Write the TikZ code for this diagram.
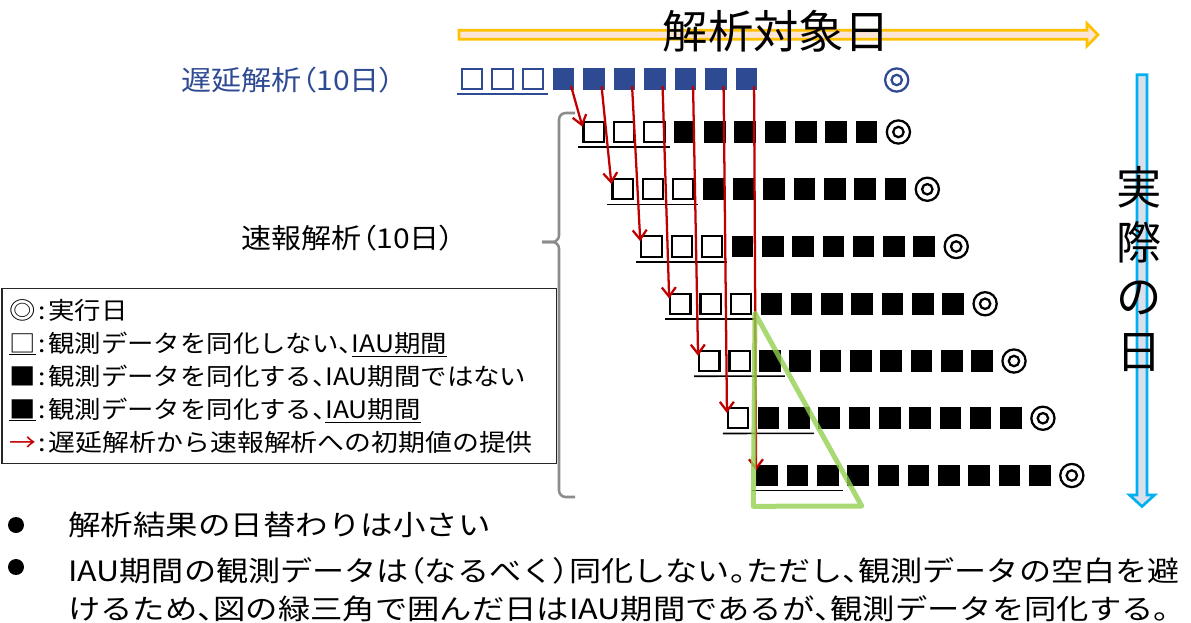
\documentclass[tikz,border=0pt]{standalone}
\usepackage{fontspec}
\usepackage{graphicx}
\setmainfont{Noto Sans CJK JP}
\newfontfamily\jpp[RawFeature=+palt]{Noto Sans CJK JP}
\newcommand\pp[1]{{\jpp #1}}
\usetikzlibrary{arrows.meta,calc}
\definecolor{dblue}{HTML}{2E4A93}
\definecolor{arrred}{HTML}{C00000}
\definecolor{yline}{HTML}{FFC000}
\definecolor{peach}{HTML}{FBE5D6}
\definecolor{cline}{HTML}{00B0F0}
\definecolor{cfill}{HTML}{DAE0EA}
\definecolor{tgreen}{HTML}{92D050}
\definecolor{bgray}{HTML}{8C8C8C}
\begin{document}
\begin{tikzpicture}[x=0.75pt,y=-0.75pt,
  fsq/.style={rectangle, inner sep=0pt, minimum size=16.2pt, fill=#1},
  osq/.style={rectangle, inner sep=0pt, minimum size=15.2pt, draw=#1, line width=1.65pt},
  dmark/.style={circle, inner sep=0pt, minimum size=17.4pt, draw=#1, line width=1.7pt},
  uline/.style={draw=#1, line width=1.2pt},
  feed/.style={draw=arrred, line width=1.7pt, -{Straight Barb[length=7pt,width=10.5pt]}},
  lbl/.style={anchor=base west, inner sep=0pt},
  legtxt/.style={anchor=base west, inner sep=0pt, font=\fontsize{18}{22}\selectfont},
  bottxt/.style={anchor=base west, inner sep=0pt, font=\fontsize{21}{25}\selectfont},
  bul/.style={circle, fill=black, inner sep=0pt, minimum size=12pt},
  bracestyle/.style={draw=bgray, line width=1.9pt, rounded corners=5pt}]
\useasboundingbox (0,0) rectangle (1191,622);

% analysis-target-day arrow
\draw[yline, fill=peach, line width=2pt, line join=miter]
  (459,30.3) -- (1087,30.3) -- (1087,23.5) -- (1098,34.8) -- (1087,46) -- (1087,39.3) -- (459,39.3) -- cycle;
\node[inner sep=0pt, font=\fontsize{34}{40}\selectfont] (title) at (776,31) {解析対象日};

% actual-day arrow
\draw[cline, fill=cfill, line width=2pt, line join=miter]
  (1137,74.7) -- (1147,74.7) -- (1147,495) -- (1154.5,495) -- (1142,506.5) -- (1129.5,495) -- (1137,495) -- cycle;
\node[inner sep=0pt, align=center, font=\fontsize{34}{41}\selectfont] (actual) at (1139,269) {実\\際\\の\\日};

% labels
\node[lbl, text=dblue, font=\fontsize{20.5}{24}\selectfont] (lblD) at (181,90) {\scalebox{1.1}[1]{遅延解析\pp{（}10日\pp{）}}};
\node[lbl, font=\fontsize{20.5}{24}\selectfont] (lblS) at (241,248) {\scalebox{1.1}[1]{速報解析\pp{（}10日\pp{）}}};

% delayed analysis row
\foreach \i in {0,1,2} \node[osq=dblue] (d\i) at ({472+30.5*\i},79) {};
\foreach \i in {3,...,9} \node[fsq=dblue] (d\i) at ({472+30.5*\i},79) {};
\node[dmark=dblue] (dE) at (896.7,80) {};
\draw[dblue, line width=1.7pt] (dE.center) circle[radius=3.9pt];
\draw[uline=dblue] ($(d0.south west)+(-4,4)$) -- ($(d2.south east)+(4,4)$);

% quick analysis rows
\foreach \k in {1,...,7}{
  \pgfmathsetmacro\ry{132+57.25*(\k-1)}
  \pgfmathsetmacro\rx{582.7+28.9*(\k-1)+11}
  \pgfmathtruncatemacro\nop{min(3,7-\k)}
  \foreach \i in {0,...,9}{
    \ifnum\i<\nop
      \node[osq=black] (r\k-\i) at ({\rx+30.3*\i},\ry) {};
    \else
      \node[fsq=black] (r\k-\i) at ({\rx+30.3*\i},\ry) {};
    \fi
  }
  \node[dmark=black] (e\k) at ({\rx-11+315.7},\ry) {};
  \draw[line width=1.7pt] (e\k.center) circle[radius=3.9pt];
  \draw[uline=black] ($(r\k-0.south west)+(-4,4)$) -- ($(r\k-2.south east)+(4,4)$);
}

% initial value feed arrows
\foreach \k in {1,...,7}{
  \pgfmathtruncatemacro\j{\k+2}
  \draw[feed] ($(d\j.south east)+(-3.5,-4)$) -- ($(r\k-0.north west)+(0,6)$);
}

% green triangle
\coordinate (gA) at (755,313.3);
\coordinate (gB) at (753.3,506.3);
\coordinate (gC) at (861.7,506);
\draw[tgreen, opacity=0.8, line width=3.75pt, line join=round] (gA) -- (gB) -- (gC) -- cycle;

% brace
\draw[bracestyle] (575,113) -- (559,113) -- (559,242) -- (542,242);
\draw[bracestyle] (542,242) -- (559,242) -- (559,497) -- (575,497);

% legend
\node[draw=black!85, line width=1.3pt, inner sep=0pt, minimum width=415.9pt, minimum height=131.25pt, anchor=north west] (legend) at (1,287.5) {};
\node[legtxt] (L1) at (9,319) {\scalebox{1.1}[1]{◎\hspace{0.1em}:\hspace{0.1em}実行日}};
\node[legtxt] (L2) at (9,352) {\scalebox{1.1}[1]{\underline{□}\hspace{0.1em}:\hspace{0.1em}観測データを同化しない\pp{、}\underline{IAU期間}}};
\node[legtxt] (L3) at (9,385) {\scalebox{1.1}[1]{■\hspace{0.1em}:\hspace{0.1em}観測データを同化する\pp{、}IAU期間ではない}};
\node[legtxt] (L4) at (9,418) {\scalebox{1.1}[1]{\underline{■}\hspace{0.1em}:\hspace{0.1em}観測データを同化する\pp{、}\underline{IAU期間}}};
\node[legtxt] (L5) at (9,451) {\scalebox{1.12}[1]{{\color{arrred}→}\hspace{0.1em}:\hspace{0.1em}遅延解析から速報解析への初期値の提供}};

% bullets
\node[bul] (b1) at (16,525) {};
\node[bul] (b2) at (16,567) {};
\node[bottxt] (t1) at (68,535) {\scalebox{1.16}[1]{解析結果の日替わりは小さい}};
\node[bottxt] (t2) at (68,581) {\scalebox{1.147}[1]{IAU期間の観測データは\pp{（}なるべく\pp{）}同化しない\pp{。}ただし\pp{、}観測データの空白を避}};
\node[bottxt] (t3) at (68,619) {\scalebox{1.154}[1]{けるため\pp{、}図の緑三角で囲んだ日はIAU期間であるが\pp{、}観測データを同化する。}};
\end{tikzpicture}
\end{document}
